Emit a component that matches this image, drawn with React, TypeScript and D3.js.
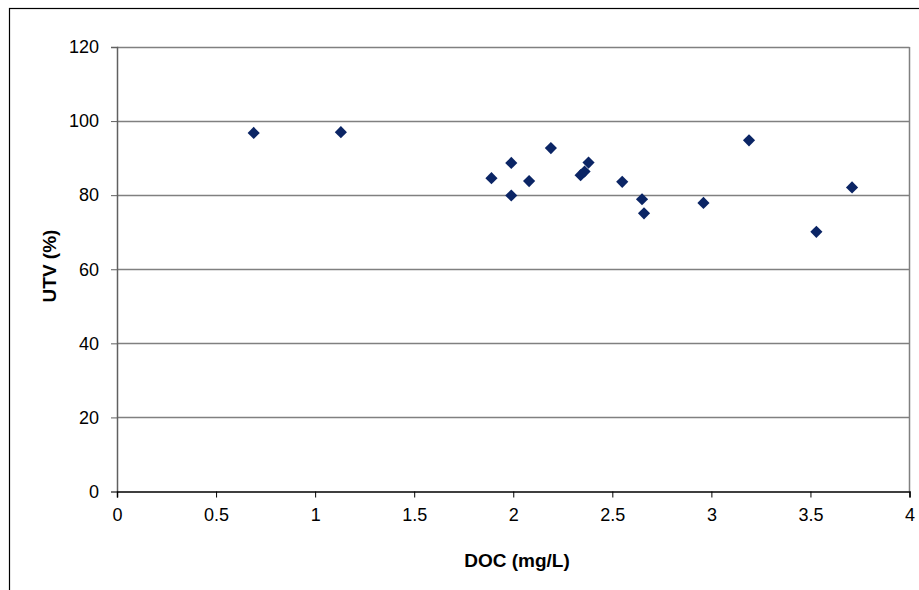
import { useEffect, useRef } from 'react';
import * as d3 from 'd3';

const docValues = [0.69, 1.13, 1.89, 1.99, 1.99, 2.08, 2.19, 2.34, 2.36, 2.38, 2.55, 2.65, 2.66, 2.96, 3.19, 3.53, 3.71];
const utvValues = [96.8, 97.0, 84.6, 88.7, 79.9, 83.8, 92.7, 85.4, 86.4, 88.8, 83.6, 78.9, 75.1, 77.9, 94.8, 70.1, 82.1];
const xTicks = [0, 0.5, 1, 1.5, 2, 2.5, 3, 3.5, 4];
const yTicks = [0, 20, 40, 60, 80, 100, 120];

export default function App() {
  const svgRef = useRef<SVGSVGElement>(null);

  useEffect(() => {
    if (!svgRef.current) return;
    const svg = d3.select(svgRef.current);
    svg.selectAll('*').remove();

    const left = 117, right = 909.5, top = 47, bottom = 491.5;
    const x = d3.scaleLinear().domain([0, 4]).range([left, right]);
    const y = d3.scaleLinear().domain([0, 120]).range([bottom, top]);
    const font = '"Liberation Sans", Arial, sans-serif';

    svg.append('rect').attr('x', 9.5).attr('y', 8.5).attr('width', 930).attr('height', 600)
      .attr('fill', '#fff').attr('stroke', '#000').attr('stroke-width', 1.2);

    // gridlines + plot border
    svg.append('g').selectAll('line').data(yTicks.filter((t) => t > 0)).join('line')
      .attr('x1', left).attr('x2', right)
      .attr('y1', (d) => Math.round(y(d)) + 0.5).attr('y2', (d) => Math.round(y(d)) + 0.5)
      .attr('stroke', '#808080').attr('stroke-width', 1.5);
    svg.append('line').attr('x1', right).attr('x2', right).attr('y1', top).attr('y2', bottom)
      .attr('stroke', '#808080').attr('stroke-width', 1.5);

    const yAxis = svg.append('g').attr('transform', `translate(${left},0)`)
      .call(d3.axisLeft(y).tickValues(yTicks).tickSize(6).tickPadding(12).tickFormat(d3.format('d')));
    yAxis.select('.domain').attr('stroke', '#606060').attr('stroke-width', 1.5);
    yAxis.selectAll('.tick line').attr('stroke', '#606060');

    const xAxis = svg.append('g').attr('transform', `translate(0,${bottom})`)
      .call(d3.axisBottom(x).tickValues(xTicks).tickSize(6).tickPadding(11).tickFormat((d) => String(d)));
    xAxis.select('.domain').attr('stroke', '#000').attr('stroke-width', 1.5);
    xAxis.selectAll('.tick line').attr('stroke', '#000');

    svg.selectAll('.tick text').attr('fill', '#000').style('font-size', '18px').style('font-family', font);

    const diamond = d3.symbol().type(d3.symbolSquare).size(74);
    svg.append('g').selectAll('path').data(docValues).join('path')
      .attr('d', diamond)
      .attr('transform', (d, i) => `translate(${x(d)},${y(utvValues[i])}) rotate(45)`)
      .attr('fill', '#0b2565');

    svg.append('text').attr('x', 517).attr('y', 567).attr('text-anchor', 'middle')
      .style('font-family', font).style('font-size', '19px').style('font-weight', 'bold').text('DOC (mg/L)');
    svg.append('text').attr('transform', `translate(56,266) rotate(-90)`).attr('text-anchor', 'middle')
      .style('font-family', font).style('font-size', '19px').style('font-weight', 'bold').text('UTV (%)');
  }, []);

  return (
    <svg ref={svgRef} width={919} height={590} style={{ position: 'absolute', left: 0, top: 0 }} />
  );
}
